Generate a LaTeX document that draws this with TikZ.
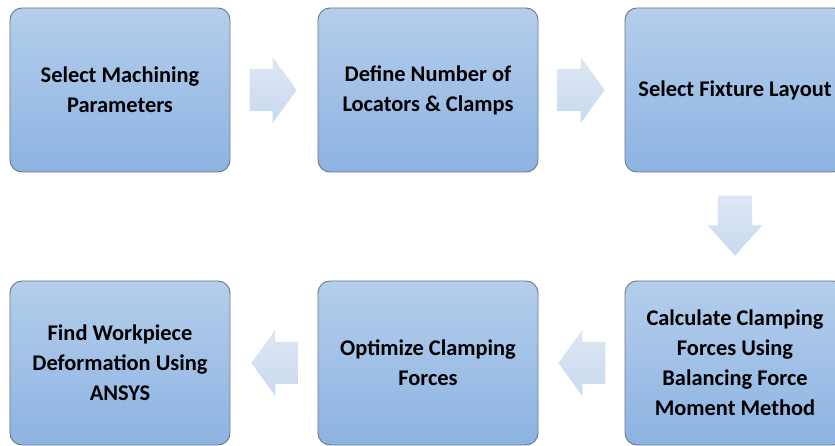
\documentclass[tikz,border=0pt]{standalone}
\usepackage{fontspec}
\setmainfont{Carlito}
\usetikzlibrary{positioning,shapes.arrows,calc}
\definecolor{boxTop}{HTML}{B4CEEB}
\definecolor{boxBot}{HTML}{8DB3E2}
\definecolor{boxLine}{HTML}{6B7889}
\definecolor{arrTop}{HTML}{DDE7F4}
\definecolor{arrBot}{HTML}{C9D9EF}

\begin{document}
\begin{tikzpicture}[x=1bp, y=-1bp,
    stepbox/.style={rectangle, rounded corners=12bp, draw=boxLine,
                  line width=0.9bp, top color=boxTop, bottom color=boxBot,
                  minimum width=220bp, minimum height=164bp, inner sep=0pt,
                  align=center, font=\bfseries\fontsize{22.5}{30}\selectfont},
    flow/.style={single arrow, draw=none, top color=arrTop, bottom color=arrBot,
                  single arrow head indent=0pt, inner xsep=0pt, inner ysep=21bp,
                  minimum height=47bp, anchor=tail,
                  single arrow head extend=12bp, single arrow tip angle=108},
    flowdown/.style={flow, inner ysep=17bp, minimum height=60bp,
                  single arrow head extend=10bp, single arrow tip angle=84},
  ]
    \useasboundingbox (0,0) rectangle (835,446);

    % --- top row, left to right ---------------------------------------------
    \node[stepbox] (b1) at (120,90)  {Select Machining\\Parameters};
    \node[stepbox] (b2) at (428,90)  {Define Number of\\Locators \& Clamps};
    \node[stepbox] (b3) at (735,90)  {Select Fixture Layout};

    % --- bottom row, right to left ------------------------------------------
    \node[stepbox] (b4) at (735,363) {Calculate Clamping\\Forces Using\\Balancing Force\\Moment Method};
    \node[stepbox] (b5) at (428,363) {Optimize Clamping\\Forces};
    \node[stepbox] (b6) at (120,363) {Find Workpiece\\Deformation Using\\ANSYS};

    % --- block arrows, tail a little off the box they leave -----------------
    \node[flow] (a12) at ([xshift=19bp]b1.east) {};
    \node[flow] (a23) at ([xshift=19bp]b2.east) {};
    \node[flowdown, rotate=-90] (a34) at ([yshift=-23bp]b3.south) {};
    \node[flow, rotate=180] (a45) at ([xshift=-19bp]b4.west) {};
    \node[flow, rotate=180] (a56) at ([xshift=-19bp]b5.west) {};
  \end{tikzpicture}
\end{document}
